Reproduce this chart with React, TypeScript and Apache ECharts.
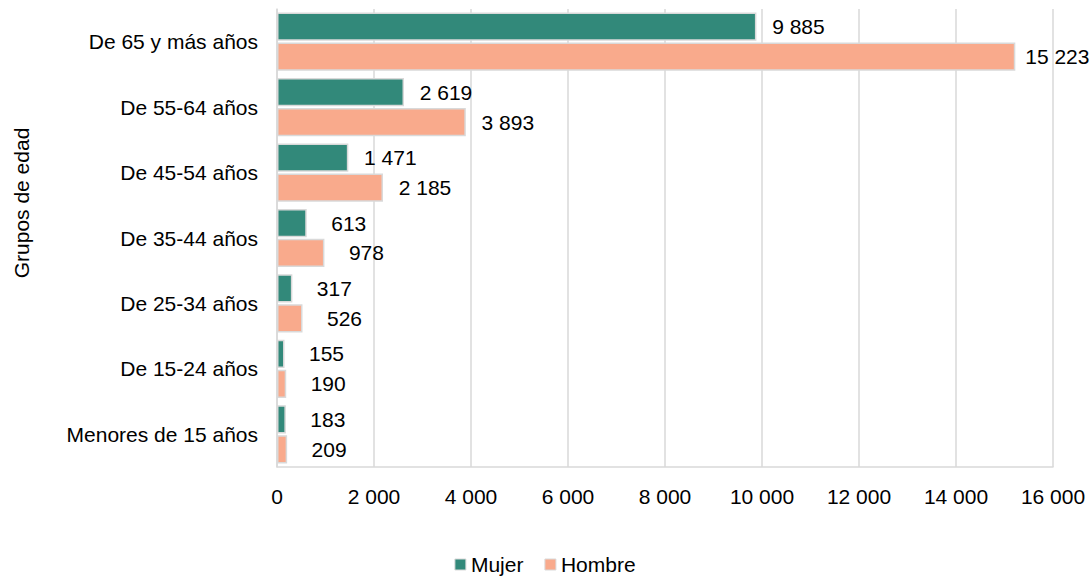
import React, { useEffect, useRef } from "react";
import * as echarts from "echarts";

const categories = [
  "Menores de 15 años",
  "De 15-24 años",
  "De 25-34 años",
  "De 35-44 años",
  "De 45-54 años",
  "De 55-64 años",
  "De 65 y más años",
];
const mujer = [183, 155, 317, 613, 1471, 2619, 9885];
const hombre = [209, 190, 526, 978, 2185, 3893, 15223];
const seriesNames = ["Mujer", "Hombre"];
const axisTitle = "Grupos de edad";

const FONT = "'Liberation Sans', Arial, sans-serif";
const FS = 21;
const fmt = (v: number) => String(v).replace(/\B(?=(\d{3})+(?!\d))/g, " ");

export default function App() {
  const ref = useRef<HTMLDivElement>(null);
  useEffect(() => {
    if (!ref.current) return;
    const chart = echarts.init(ref.current, undefined, { renderer: "svg" });
    const mkSeries = (name: string, data: number[], color: string) => ({
      name,
      type: "bar",
      data,
      barCategoryGap: "11%",
      barGap: "6%",
      itemStyle: { color, borderColor: "#d9d9d9", borderWidth: 1.5 },
      label: {
        show: true,
        position: "right",
        distance: 12,
        color: "#000",
        fontFamily: FONT,
        fontSize: FS,
        formatter: (p: any) => `{v|${fmt(p.value)}}`,
        rich: {
          v: { width: 60, align: "center", fontSize: FS, fontFamily: FONT, color: "#000" },
        },
      },
    });
    chart.setOption({
      animation: false,
      textStyle: { fontFamily: FONT },
      grid: { left: 277, right: 37, top: 9, bottom: 109, containLabel: false },
      legend: {
        data: seriesNames,
        top: 554,
        left: "center",
        padding: 0,
        itemWidth: 11,
        itemHeight: 11,
        itemGap: 21,
        icon: "rect",
        textStyle: { fontSize: FS, color: "#000", fontFamily: FONT },
        itemStyle: { borderColor: "#d9d9d9", borderWidth: 1 },
      },
      xAxis: {
        type: "value",
        min: 0,
        max: 16000,
        interval: 2000,
        axisLine: { show: true, lineStyle: { color: "#d9d9d9", width: 1.5 } },
        axisTick: { show: false },
        splitLine: { show: true, lineStyle: { color: "#d9d9d9", width: 1.5 } },
        axisLabel: {
          color: "#000",
          fontSize: FS,
          fontFamily: FONT,
          margin: 19,
          formatter: (v: number) => fmt(v),
        },
      },
      yAxis: {
        type: "category",
        data: categories,
        axisLine: { show: true, lineStyle: { color: "#d9d9d9", width: 1.5 } },
        axisTick: { show: false },
        axisLabel: { color: "#000", fontSize: FS, fontFamily: FONT, margin: 19 },
      },
      graphic: [
        {
          type: "text",
          x: 21,
          y: 203,
          rotation: Math.PI / 2,
          style: {
            text: axisTitle,
            fill: "#000",
            font: `${FS}px ${FONT}`,
            align: "center",
            verticalAlign: "middle",
          },
        },
      ],
      series: [
        mkSeries(seriesNames[0], mujer, "#32897a"),
        mkSeries(seriesNames[1], hombre, "#f9aa8c"),
      ],
    });
    return () => chart.dispose();
  }, []);
  return <div ref={ref} style={{ width: 1090, height: 576, position: "absolute", left: 0, top: 0 }} />;
}
